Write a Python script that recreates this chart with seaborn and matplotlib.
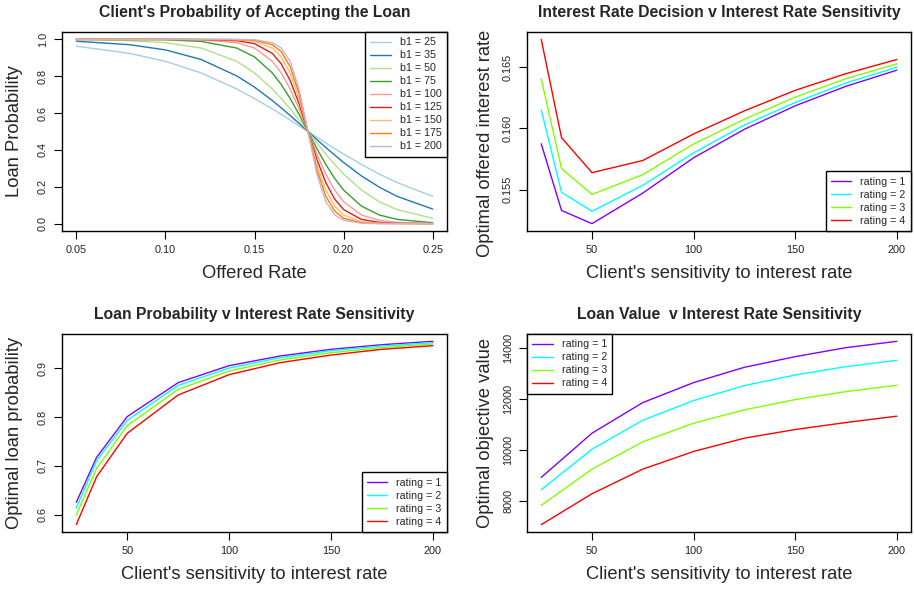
import matplotlib
matplotlib.use("Agg")
import matplotlib.pyplot as plt
import seaborn as sns

# ---------------- data ----------------
# Panel 1: acceptance probability vs offered rate
rates = [0.05, 0.08, 0.10, 0.12, 0.14, 0.15, 0.16, 0.165, 0.17, 0.175,
         0.18, 0.185, 0.19, 0.195, 0.20, 0.21, 0.22, 0.23, 0.25]
b1_values = [25, 35, 50, 75, 100, 125, 150, 175, 200]
prob_b25 = [0.963, 0.924, 0.881, 0.818, 0.731, 0.679, 0.623, 0.593, 0.562, 0.531,
            0.500, 0.469, 0.438, 0.407, 0.378, 0.321, 0.269, 0.223, 0.148]
prob_b35 = [0.990, 0.971, 0.943, 0.891, 0.802, 0.741, 0.668, 0.628, 0.587, 0.544,
            0.500, 0.456, 0.413, 0.372, 0.332, 0.259, 0.198, 0.148, 0.079]
prob_b50 = [0.999, 0.993, 0.982, 0.953, 0.881, 0.818, 0.731, 0.679, 0.623, 0.562,
            0.500, 0.438, 0.377, 0.321, 0.269, 0.182, 0.119, 0.076, 0.029]
prob_b75 = [1.000, 0.999, 0.998, 0.989, 0.953, 0.905, 0.818, 0.755, 0.679, 0.593,
            0.500, 0.407, 0.321, 0.245, 0.182, 0.095, 0.047, 0.023, 0.005]
prob_b100 = [1.000, 1.000, 1.000, 0.998, 0.982, 0.953, 0.881, 0.818, 0.731, 0.623,
             0.500, 0.377, 0.269, 0.182, 0.119, 0.047, 0.018, 0.007, 0.001]
prob_b125 = [1.000, 1.000, 1.000, 0.999, 0.993, 0.977, 0.924, 0.867, 0.777, 0.651,
             0.500, 0.349, 0.223, 0.133, 0.076, 0.023, 0.007, 0.002, 0.000]
prob_b150 = [1.000, 1.000, 1.000, 1.000, 0.998, 0.989, 0.953, 0.905, 0.818, 0.679,
             0.500, 0.321, 0.182, 0.095, 0.047, 0.011, 0.002, 0.001, 0.000]
prob_b175 = [1.000, 1.000, 1.000, 1.000, 0.999, 0.995, 0.971, 0.933, 0.852, 0.706,
             0.500, 0.294, 0.148, 0.068, 0.029, 0.005, 0.001, 0.000, 0.000]
prob_b200 = [1.000, 1.000, 1.000, 1.000, 1.000, 0.998, 0.982, 0.953, 0.881, 0.731,
             0.500, 0.269, 0.119, 0.047, 0.018, 0.002, 0.000, 0.000, 0.000]
prob_curves = [prob_b25, prob_b35, prob_b50, prob_b75, prob_b100,
               prob_b125, prob_b150, prob_b175, prob_b200]

# Panels 2-3: against client's sensitivity
sensitivity = [25, 35, 50, 75, 100, 125, 150, 175, 200]
ratings = [1, 2, 3, 4]

rate_r1 = [0.15874, 0.15331, 0.15224, 0.15473, 0.15760, 0.15992, 0.16183, 0.16342, 0.16473]
rate_r2 = [0.16150, 0.15478, 0.15325, 0.15536, 0.15800, 0.16027, 0.16210, 0.16369, 0.16497]
rate_r3 = [0.16402, 0.15672, 0.15462, 0.15623, 0.15872, 0.16074, 0.16254, 0.16404, 0.16525]
rate_r4 = [0.16724, 0.15924, 0.15639, 0.15738, 0.15954, 0.16142, 0.16309, 0.16445, 0.16560]

loanp_r1 = [0.6252, 0.7175, 0.8009, 0.8706, 0.9055, 0.9253, 0.9390, 0.9485, 0.9554]
loanp_r2 = [0.6136, 0.7107, 0.7934, 0.8651, 0.9007, 0.9219, 0.9362, 0.9458, 0.9526]
loanp_r3 = [0.5992, 0.6949, 0.7824, 0.8569, 0.8945, 0.9171, 0.9321, 0.9424, 0.9499]
loanp_r4 = [0.5794, 0.6778, 0.7667, 0.8453, 0.8870, 0.9116, 0.9273, 0.9390, 0.9465]

# Panel 4: objective value
sensitivity_value = [25, 50, 75, 100, 125, 150, 175, 200]
value_r1 = [8938, 10673, 11873, 12656, 13256, 13674, 14026, 14274]
value_r2 = [8455, 10047, 11182, 11952, 12539, 12956, 13282, 13530]
value_r3 = [7842, 9264, 10334, 11065, 11587, 11991, 12304, 12552]
value_r4 = [7086, 8299, 9264, 9956, 10478, 10817, 11091, 11339]

# ---------------- style ----------------
sns.set_theme(style="white")
plt.rcParams["font.family"] = ["Liberation Sans", "DejaVu Sans"]
plt.rcParams["axes.edgecolor"] = "black"
plt.rcParams["axes.linewidth"] = 1.0

paired = sns.color_palette("Paired", 9)
rainbow4 = ["#8000FF", "#00FFFF", "#80FF00", "#FF0000"]

W, H = 914, 589
fig = plt.figure(figsize=(W / 100, H / 100), dpi=100)


def add_ax(l, t, r, b):
    return fig.add_axes([l / W, 1 - b / H, (r - l) / W, (b - t) / H])


ax1 = add_ax(62, 32, 447, 231)
ax2 = add_ax(527, 32, 911, 231)
ax3 = add_ax(62, 334, 447, 532)
ax4 = add_ax(527, 334, 911, 532)

TICK_FS = 7.8
LAB_FS = 13.2
TITLE_FS = 11.3
LEG_FS = 7.7


def style(ax, title, xlabel, ylabel, yc=0.5, xt=None, yt=None, yfmt=None):
    ax.margins(x=0.04, y=0.04)
    ax.set_title(title, fontsize=TITLE_FS, fontweight="bold", pad=10.5)
    ax.set_xlabel(xlabel, fontsize=LAB_FS, va="center")
    ax.set_ylabel(ylabel, fontsize=LAB_FS, va="center")
    ax.xaxis.set_label_coords(0.5, -0.215)
    ax.yaxis.set_label_coords(-0.123 if ax in (ax1, ax3) else -0.109, yc)
    if xt is not None:
        ax.set_xticks(xt)
    if yt is not None:
        ax.set_yticks(yt)
        if yfmt is not None:
            ax.set_yticklabels([yfmt.format(v) for v in yt])
    ax.tick_params(axis="both", which="major", length=6, width=0.8,
                   color="black", labelsize=TICK_FS, labelcolor="#222222",
                   bottom=True, left=True, direction="out", pad=4)
    for lab in ax.get_yticklabels():
        lab.set_rotation(90)
        lab.set_va("center")
    for s in ax.spines.values():
        s.set_visible(True)
        s.set_color("black")
        s.set_linewidth(1.0)


def legend(ax, loc):
    leg = ax.legend(loc=loc, fontsize=LEG_FS, frameon=True, fancybox=False,
                    framealpha=1, edgecolor="black", borderaxespad=0,
                    labelspacing=0.28, handlelength=1.9, handletextpad=0.85,
                    borderpad=0.5)
    leg.get_frame().set_linewidth(1.0)


# Panel 1
for b, p, c in zip(b1_values, prob_curves, paired):
    sns.lineplot(x=rates, y=p, ax=ax1, color=c, linewidth=1.0, label=f"b1 = {b}")
style(ax1, "Client's Probability of Accepting the Loan", "Offered Rate",
      "Loan Probability", xt=[0.05, 0.10, 0.15, 0.20, 0.25],
      yt=[0.0, 0.2, 0.4, 0.6, 0.8, 1.0], yfmt="{:.1f}")
ax1.set_xticklabels(["0.05", "0.10", "0.15", "0.20", "0.25"])
legend(ax1, "upper right")

# Panel 2
for r, vals, c in zip(ratings, [rate_r1, rate_r2, rate_r3, rate_r4], rainbow4):
    sns.lineplot(x=sensitivity, y=vals, ax=ax2, color=c, linewidth=1.0,
                 label=f"rating = {r}")
style(ax2, "Interest Rate Decision v Interest Rate Sensitivity",
      "Client's sensitivity to interest rate", "Optimal offered interest rate",
      yc=0.442, xt=[50, 100, 150, 200], yt=[0.155, 0.160, 0.165], yfmt="{:.3f}")
legend(ax2, "lower right")

# Panel 3
for r, vals, c in zip(ratings, [loanp_r1, loanp_r2, loanp_r3, loanp_r4], rainbow4):
    sns.lineplot(x=sensitivity, y=vals, ax=ax3, color=c, linewidth=1.0,
                 label=f"rating = {r}")
style(ax3, "Loan Probability v Interest Rate Sensitivity",
      "Client's sensitivity to interest rate", "Optimal loan probability",
      xt=[50, 100, 150, 200], yt=[0.6, 0.7, 0.8, 0.9], yfmt="{:.1f}")
legend(ax3, "lower right")

# Panel 4
for r, vals, c in zip(ratings, [value_r1, value_r2, value_r3, value_r4], rainbow4):
    sns.lineplot(x=sensitivity_value, y=vals, ax=ax4, color=c, linewidth=1.0,
                 label=f"rating = {r}")
style(ax4, "Loan Value  v Interest Rate Sensitivity",
      "Client's sensitivity to interest rate", "Optimal objective value",
      xt=[50, 100, 150, 200], yt=[8000, 10000, 12000, 14000], yfmt="{:d}")
legend(ax4, "upper left")

fig.savefig("out.png", dpi=100, facecolor="white")
